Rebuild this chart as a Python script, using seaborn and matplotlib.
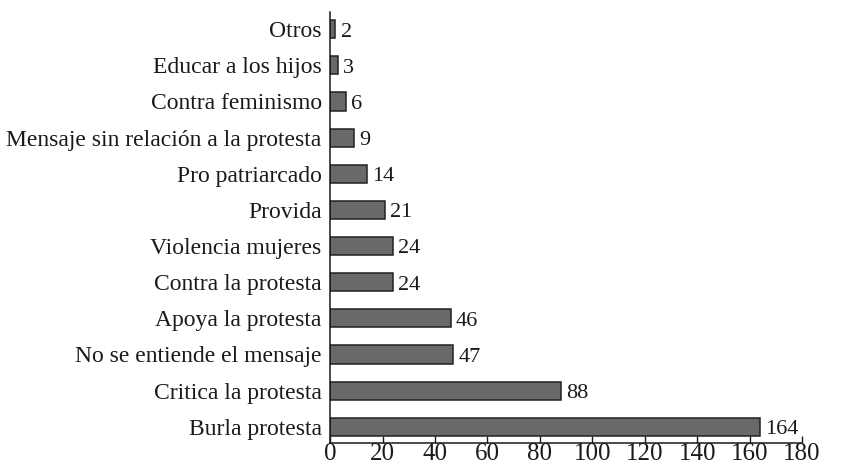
import matplotlib
matplotlib.use("Agg")
import pandas as pd
import matplotlib.pyplot as plt
import seaborn as sns

categorias = ['Otros', 'Educar a los hijos', 'Contra feminismo',
              'Mensaje sin relación a la protesta', 'Pro patriarcado', 'Provida',
              'Violencia mujeres', 'Contra la protesta', 'Apoya la protesta',
              'No se entiende el mensaje', 'Critica la protesta', 'Burla protesta']
valores = [2, 3, 6, 9, 14, 21, 24, 24, 46, 47, 88, 164]
ticks_x = [0, 20, 40, 60, 80, 100, 120, 140, 160, 180]

sns.set_theme(style="white")
plt.rcParams['font.family'] = ['Liberation Serif', 'DejaVu Serif']

df = pd.DataFrame({'categoria': categorias, 'valor': valores})

fig = plt.figure(figsize=(8.42, 4.69), dpi=100)
ax = fig.add_axes([0.392, 0.0554, 0.5605, 0.9186])

sns.barplot(data=df, y='categoria', x='valor', orient='h', color='#69696c',
            saturation=1, edgecolor='#222222', linewidth=1.1, width=0.5, ax=ax)

for i, v in enumerate(valores):
    ax.text(v + 2.0, i + 0.08, str(v), va='center', ha='left', fontsize=16, color='#1a1a1a')

ax.set_xlim(0, 180)
ax.set_ylim(11.45, -0.47)
ax.set_xticks(ticks_x)
ax.set_xlabel('')
ax.set_ylabel('')
ax.tick_params(axis='x', direction='in', length=5, width=1, labelsize=18,
               pad=0, colors='#1a1a1a', bottom=True)
ax.tick_params(axis='y', length=0, labelsize=17, pad=6, colors='#1a1a1a')
sns.despine(ax=ax, top=True, right=True)
for s in ['left', 'bottom']:
    ax.spines[s].set_color('#1a1a1a')
    ax.spines[s].set_linewidth(1.1)

fig.savefig('out.png', dpi=100)
